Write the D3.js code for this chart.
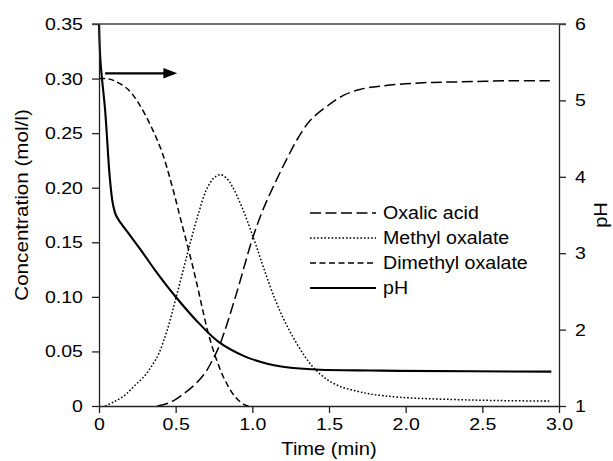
<!DOCTYPE html>
<html>
<head>
<meta charset="utf-8">
<script src="https://cdn.jsdelivr.net/npm/d3@7"></script>
<style>
  body { margin: 0; background: #fff; }
  svg { display: block; font-family: "Liberation Sans", Arial, sans-serif; }
</style>
</head>
<body>
<svg id="chart" width="613" height="461"></svg>
<script>
// values
const dimethylTime = [0, 0.05, 0.10, 0.19, 0.26, 0.34, 0.41, 0.47, 0.54, 0.59, 0.63, 0.67, 0.71, 0.76, 0.82, 0.89, 0.95, 0.98];
const dimethylConc = [0.300, 0.300, 0.298, 0.290, 0.277, 0.256, 0.233, 0.205, 0.167, 0.140, 0.117, 0.092, 0.068, 0.045, 0.024, 0.008, 0.001, 0.0];

const methylTime = [0.04, 0.10, 0.17, 0.235, 0.30, 0.35, 0.39, 0.45, 0.50, 0.55, 0.60, 0.65, 0.70, 0.75, 0.79, 0.83, 0.87, 0.93, 1.01, 1.08, 1.15, 1.21, 1.27, 1.34, 1.40, 1.48, 1.57, 1.67, 1.77, 1.96, 2.30, 2.60, 2.94];
const methylConc = [0.000, 0.004, 0.010, 0.019, 0.028, 0.038, 0.048, 0.072, 0.098, 0.125, 0.152, 0.177, 0.198, 0.209, 0.212, 0.209, 0.201, 0.183, 0.153, 0.124, 0.097, 0.078, 0.062, 0.046, 0.035, 0.025, 0.018, 0.014, 0.011, 0.008, 0.006, 0.005, 0.0045];

const oxalicTime = [0.38, 0.46, 0.54, 0.62, 0.69, 0.74, 0.79, 0.89, 1.00, 1.07, 1.15, 1.22, 1.30, 1.38, 1.51, 1.60, 1.70, 1.83, 2.09, 2.35, 2.70, 2.94];
const oxalicConc = [0.000, 0.003, 0.010, 0.019, 0.030, 0.042, 0.057, 0.100, 0.153, 0.180, 0.205, 0.225, 0.246, 0.262, 0.277, 0.285, 0.290, 0.293, 0.296, 0.297, 0.298, 0.298];

const phTime = [0, 0.01, 0.04, 0.07, 0.09, 0.11, 0.14, 0.20, 0.27, 0.365, 0.50, 0.63, 0.78, 0.95, 1.05, 1.15, 1.25, 1.44, 1.77, 1.96, 2.95];
const phValue = [6.0, 5.5, 4.87, 4.0, 3.65, 3.50, 3.40, 3.24, 3.05, 2.78, 2.43, 2.13, 1.84, 1.65, 1.58, 1.53, 1.50, 1.475, 1.465, 1.46, 1.45];

const xTicks = [0, 0.5, 1.0, 1.5, 2.0, 2.5, 3.0];
const concTicks = [0, 0.05, 0.10, 0.15, 0.20, 0.25, 0.30, 0.35];
const phTicks = [1, 2, 3, 4, 5, 6];

const legendLabels = ["Oxalic acid", "Methyl oxalate", "Dimethyl oxalate", "pH"];

const svg = d3.select("#chart");
const plotLeft = 99, plotRight = 559, plotTop = 24, plotBottom = 406;

const x = d3.scaleLinear().domain([0, 3]).range([plotLeft, plotRight]);
const y = d3.scaleLinear().domain([0, 0.35]).range([plotBottom, plotTop]);
const yPh = d3.scaleLinear().domain([1, 6]).range([plotBottom, plotTop]);

const zip = (ts, vs) => ts.map((t, i) => [t, vs[i]]);

const smooth = d3.curveCatmullRom.alpha(0.5);
const concLine = d3.line().x(d => x(d[0])).y(d => y(d[1])).curve(smooth);
const phLine = d3.line().x(d => x(d[0])).y(d => yPh(d[1])).curve(smooth);

const series = [
  { data: zip(oxalicTime, oxalicConc), gen: concLine, dash: "11,4.5", width: 1.5 },
  { data: zip(methylTime, methylConc), gen: concLine, dash: "1.6,2", width: 1.5 },
  { data: zip(dimethylTime, dimethylConc), gen: concLine, dash: "6,3.5", width: 1.5 },
  { data: zip(phTime, phValue), gen: phLine, dash: null, width: 2.1 }
];

svg.selectAll(".curve")
  .data(series)
  .enter()
  .append("path")
  .attr("class", "curve")
  .attr("d", d => d.gen(d.data))
  .attr("fill", "none")
  .attr("stroke", "#000")
  .attr("stroke-width", d => d.width)
  .attr("stroke-dasharray", d => d.dash);

// axes
const stretch = "scale(1.15,1)";
const styleAxis = (g) => {
  g.select(".domain").attr("stroke", "#222").attr("stroke-width", 1.3);
  g.selectAll(".tick line").attr("stroke", "#222").attr("stroke-width", 1.3);
  g.selectAll(".tick text")
    .attr("fill", "#000")
    .style("font-size", "17px")
    .style("font-family", "'Liberation Sans', Arial, sans-serif");
};

const xAxis = svg.append("g")
  .attr("transform", `translate(0,${plotBottom})`)
  .call(d3.axisBottom(x).tickValues(xTicks).tickSize(7).tickSizeOuter(0).tickPadding(5)
    .tickFormat(d => d === 0 ? "0" : d3.format(".1f")(d)));
styleAxis(xAxis);
xAxis.selectAll(".tick text").attr("transform", stretch);

const yAxis = svg.append("g")
  .attr("transform", `translate(${plotLeft},0)`)
  .call(d3.axisLeft(y).tickValues(concTicks).tickSize(7).tickSizeOuter(0).tickPadding(9)
    .tickFormat(d => d === 0 ? "0" : d3.format(".2f")(d)));
styleAxis(yAxis);
yAxis.selectAll(".tick text").attr("x", -14).attr("transform", stretch);

const phAxis = svg.append("g")
  .attr("transform", `translate(${plotRight},0)`)
  .call(d3.axisRight(yPh).tickValues(phTicks).tickSize(7).tickSizeOuter(0).tickPadding(8)
    .tickFormat(d3.format("d")));
styleAxis(phAxis);
phAxis.selectAll(".tick text").attr("x", 14).attr("transform", stretch);

// top frame line
svg.append("line")
  .attr("x1", plotLeft - 7).attr("x2", plotRight + 7)
  .attr("y1", plotTop).attr("y2", plotTop)
  .attr("stroke", "#444").attr("stroke-width", 1.3);

// axis titles
svg.append("text")
  .attr("transform", `translate(${(plotLeft + plotRight) / 2},455) scale(1.15,1)`)
  .attr("text-anchor", "middle")
  .style("font-size", "17.5px")
  .text("Time (min)");

svg.append("text")
  .attr("transform", `translate(28,205) rotate(-90) scale(1.18,1)`)
  .attr("text-anchor", "middle")
  .style("font-size", "17.5px")
  .text("Concentration (mol/l)");

svg.append("text")
  .attr("transform", `translate(607,215) rotate(-90) scale(1.15,1)`)
  .attr("text-anchor", "middle")
  .style("font-size", "17.5px")
  .text("pH");

// legend
const legend = svg.append("g").attr("transform", "translate(310,213)");
const rows = legend.selectAll(".row")
  .data(legendLabels)
  .enter()
  .append("g")
  .attr("class", "row")
  .attr("transform", (d, i) => `translate(0,${i * 25})`);

rows.append("line")
  .attr("x1", 0).attr("x2", 66)
  .attr("stroke", "#000")
  .attr("stroke-width", (d, i) => series[i].width)
  .attr("stroke-dasharray", (d, i) => series[i].dash);

rows.append("text")
  .attr("transform", "translate(73,6) scale(1.12,1)")
  .style("font-size", "17.5px")
  .text(d => d);

// arrow pointing to the right-hand pH axis
svg.append("line")
  .attr("x1", x(0.04)).attr("x2", x(0.43))
  .attr("y1", 73.3).attr("y2", 73.3)
  .attr("stroke", "#000").attr("stroke-width", 2.2);
svg.append("path")
  .attr("d", `M${x(0.42)},68 L${x(0.51)},73.3 L${x(0.42)},78.6 Z`)
  .attr("fill", "#000");
</script>
</body>
</html>
